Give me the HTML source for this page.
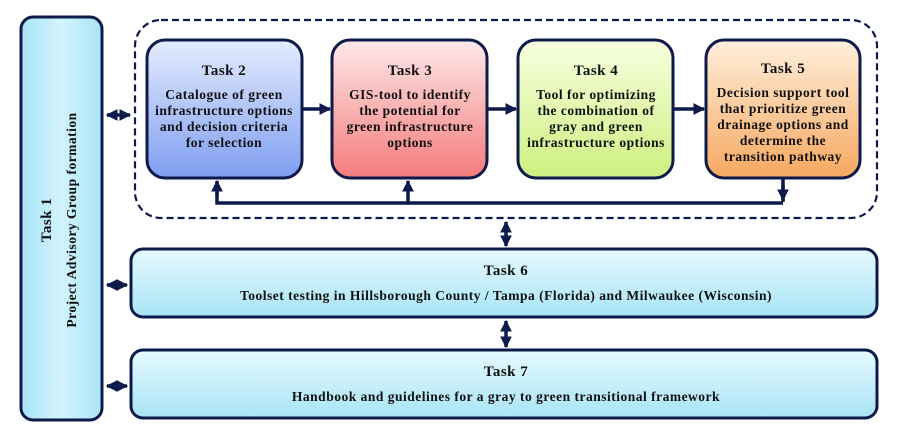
<!DOCTYPE html>
<html><head><meta charset="utf-8"><style>
html,body{margin:0;padding:0;background:#fff;}
svg{display:block;}
text{font-family:"Liberation Serif",serif;font-weight:bold;fill:#111;letter-spacing:0.5px;}
</style></head><body>
<svg width="898" height="440" viewBox="0 0 898 440" xmlns="http://www.w3.org/2000/svg">
<defs>
<linearGradient id="cy" x1="0" y1="0" x2="0" y2="1"><stop offset="0" stop-color="#e6faff"/><stop offset="1" stop-color="#a8e4f6"/></linearGradient>
<linearGradient id="cyh" x1="0" y1="0" x2="1" y2="0"><stop offset="0" stop-color="#a8e4f6"/><stop offset="0.5" stop-color="#d2f4fd"/><stop offset="1" stop-color="#a8e4f6"/></linearGradient>
<linearGradient id="bl" x1="0" y1="0" x2="0" y2="1"><stop offset="0" stop-color="#e4ecff"/><stop offset="1" stop-color="#7f9ef0"/></linearGradient>
<linearGradient id="rd" x1="0" y1="0" x2="0" y2="1"><stop offset="0" stop-color="#ffe8e8"/><stop offset="1" stop-color="#f47c7c"/></linearGradient>
<linearGradient id="gr" x1="0" y1="0" x2="0" y2="1"><stop offset="0" stop-color="#f8ffe0"/><stop offset="1" stop-color="#cdf080"/></linearGradient>
<linearGradient id="or" x1="0" y1="0" x2="0" y2="1"><stop offset="0" stop-color="#ffefdc"/><stop offset="1" stop-color="#f6a860"/></linearGradient>
<marker id="ah" viewBox="0 0 10 10" refX="9" refY="5" markerWidth="3.4" markerHeight="3.4" orient="auto-start-reverse"><path d="M0,0 L10,5 L0,10 z" fill="#0d1a4a"/></marker>
</defs>
<g stroke="#0d1a4a" stroke-width="3">
<rect x="21" y="17" width="81" height="403" rx="12" fill="url(#cyh)"/>
<rect x="135" y="20" width="742" height="198" rx="26" fill="none" stroke-width="2.2" stroke-dasharray="7,4"/>
<rect x="147" y="40" width="155" height="138" rx="18" fill="url(#bl)"/>
<rect x="332" y="40" width="155" height="138" rx="18" fill="url(#rd)"/>
<rect x="518" y="40" width="155" height="138" rx="18" fill="url(#gr)"/>
<rect x="706" y="40" width="154" height="138" rx="18" fill="url(#or)"/>
<rect x="131" y="249" width="746" height="68" rx="12" fill="url(#cy)"/>
<rect x="131" y="350" width="746" height="68" rx="12" fill="url(#cy)"/>
</g>
<g stroke="#0d1a4a" stroke-width="3.5" fill="none">
<line x1="107" y1="115" x2="130" y2="115" marker-start="url(#ah)" marker-end="url(#ah)"/>
<line x1="107" y1="285" x2="127" y2="285" marker-start="url(#ah)" marker-end="url(#ah)"/>
<line x1="107" y1="386" x2="127" y2="386" marker-start="url(#ah)" marker-end="url(#ah)"/>
<line x1="303" y1="109" x2="330" y2="109" marker-end="url(#ah)"/>
<line x1="488" y1="109" x2="516" y2="109" marker-end="url(#ah)"/>
<line x1="674" y1="109" x2="704" y2="109" marker-end="url(#ah)"/>
<polyline points="783,179 783,202"/>
<line x1="783" y1="185" x2="783" y2="200" marker-end="url(#ah)"/>
<polyline points="783,203 217,203 217,182"/>
<line x1="217" y1="195" x2="217" y2="181" marker-end="url(#ah)"/>
<line x1="408" y1="203" x2="408" y2="181" marker-end="url(#ah)"/>
<line x1="506" y1="222" x2="506" y2="246" marker-start="url(#ah)" marker-end="url(#ah)"/>
<line x1="506" y1="321" x2="506" y2="347" marker-start="url(#ah)" marker-end="url(#ah)"/>
</g>
<g text-anchor="middle" font-size="13.5">
<text x="224" y="75" font-size="15">Task 2</text>
<text x="224" y="99">Catalogue of green</text>
<text x="224" y="115">infrastructure options</text>
<text x="224" y="131">and decision criteria</text>
<text x="224" y="147">for selection</text>
<text x="410" y="75" font-size="15">Task 3</text>
<text x="410" y="99">GIS-tool to identify</text>
<text x="410" y="115">the potential for</text>
<text x="410" y="131">green infrastructure</text>
<text x="410" y="147">options</text>
<text x="596" y="75" font-size="15">Task 4</text>
<text x="596" y="99">Tool for optimizing</text>
<text x="596" y="115">the combination of</text>
<text x="596" y="131">gray and  green</text>
<text x="596" y="147">infrastructure options</text>
<text x="783" y="73" font-size="15">Task 5</text>
<text x="783" y="97">Decision support tool</text>
<text x="783" y="113">that prioritize green</text>
<text x="783" y="129">drainage options and</text>
<text x="783" y="145">determine the</text>
<text x="783" y="161">transition pathway</text>
<text x="506" y="275" font-size="15">Task 6</text>
<text x="506" y="300">Toolset testing in Hillsborough County / Tampa (Florida) and Milwaukee (Wisconsin)</text>
<text x="506" y="376" font-size="15">Task 7</text>
<text x="506" y="401">Handbook and  guidelines for a gray to green transitional framework</text>
<text transform="translate(51,220) rotate(-90)" font-size="15">Task 1</text>
<text transform="translate(76,220) rotate(-90)">Project Advisory Group formation</text>
</g>
</svg>
</body></html>
